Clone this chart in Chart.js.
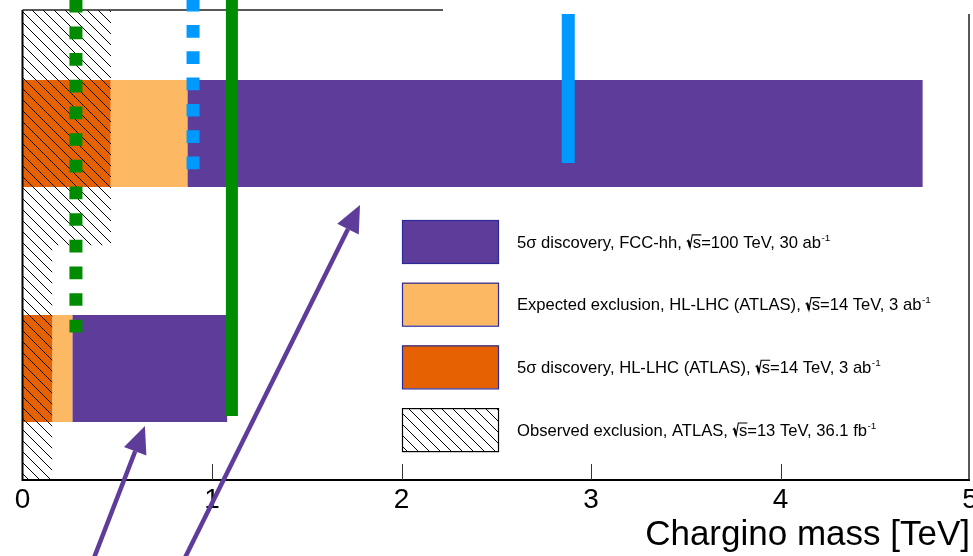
<!DOCTYPE html>
<html>
<head>
<meta charset="utf-8">
<script src="https://cdn.jsdelivr.net/npm/chart.js@4.4.1/dist/chart.umd.min.js"></script>
<style>
  html, body { margin: 0; padding: 0; background: #fff; }
  #wrap { width: 973px; height: 556px; }
</style>
</head>
<body>
<div id="wrap"><canvas id="myChart" width="973" height="556"></canvas></div>
<script>
// rows, top to bottom
var rows = ['Wino', 'Higgsino'];
var xTicks = [0, 1, 2, 3, 4, 5];

// mass reach [TeV] per row, as [from, to]
var fccDiscovery   = [[0.87, 4.75], [0.263, 1.08]];
var hllhcExclusion = [[0.465, 0.87], [0.157, 0.263]];
var hllhcDiscovery = [[0, 0.465], [0, 0.157]];
var atlasObserved  = [[0, 0.465], [0, 0.155]];

var legendLabels = [
  '5σ discovery, FCC-hh, √s=100 TeV, 30 ab^-1',
  'Expected exclusion, HL-LHC (ATLAS), √s=14 TeV, 3 ab^-1',
  '5σ discovery, HL-LHC (ATLAS), √s=14 TeV, 3 ab^-1',
  'Observed exclusion, ATLAS, √s=13 TeV, 36.1 fb^-1'
];

// vertical reference lines: mass [TeV] and extent in row units (0 = Wino row, 1 = Higgsino row)
var thermalHiggsino = 1.105, thermalHiggsinoSpan = [-0.577, 1.202];
var thermalWino     = 2.88,  thermalWinoSpan     = [-0.509, 0.126];
var dotHiggsino     = 0.282, dotHiggsinoSpan     = [-0.569, 0.849];
var dotWino         = 0.9,   dotWinoSpan         = [-0.5735, 0.160];

// arrows: [mass, row] tail and head
var arrowTail = [[0.361, 1.840], [0.836, 1.840]];
var arrowHead = [[0.646, 1.245], [1.781, 0.304]];

var fontFamily = '"Liberation Sans", Arial, Helvetica, sans-serif';
var purple = '#5e3c99', lightOrange = '#fdb863', orange = '#e66101';
var green = '#008c00', blue = '#0099ff';

var canvas = document.getElementById('myChart');
var ctx = canvas.getContext('2d');

function makeHatch() {
  var n = 11;
  var c = document.createElement('canvas');
  c.width = n; c.height = n;
  var g = c.getContext('2d');
  g.strokeStyle = '#000';
  g.lineWidth = 1;
  g.beginPath();
  g.moveTo(-1, -1); g.lineTo(n + 1, n + 1);
  g.moveTo(-1, n - 1); g.lineTo(1, n + 1);
  g.moveTo(n - 1, -1); g.lineTo(n + 1, 1);
  g.stroke();
  return ctx.createPattern(c, 'repeat');
}
var hatch = makeHatch();

function barData(arr) {
  return arr.map(function (v, i) { return { x: v, y: i }; });
}
function vline(mass, span) {
  return [{ x: mass, y: span[0] }, { x: mass, y: span[1] }];
}

// text with √s (overlined s) and a ^superscript tail
function drawLabel(g, text, x, y, size) {
  var sup = '';
  var k = text.indexOf('^');
  if (k >= 0) { sup = text.slice(k + 1); text = text.slice(0, k); }
  g.font = size + 'px ' + fontFamily;
  g.textAlign = 'left';
  g.textBaseline = 'alphabetic';
  g.fillStyle = '#000';
  var r = text.indexOf('√');
  var pre = r >= 0 ? text.slice(0, r) : text;
  g.fillText(pre, x, y);
  x += g.measureText(pre).width;
  if (r >= 0) {
    var s = text.charAt(r + 1);
    var rest = text.slice(r + 2);
    var sw = g.measureText(s).width;
    var top = y - 0.76 * size;
    g.strokeStyle = '#000';
    g.lineWidth = 1.1;
    g.beginPath();
    g.moveTo(x + 0.3, y - 0.36 * size);
    g.lineTo(x + 1.8, y - 0.44 * size);
    g.lineTo(x + 3.6, y);
    g.lineTo(x + 5.8, top);
    g.lineTo(x + 6.6 + sw, top);
    g.stroke();
    g.lineWidth = 2.2;
    g.beginPath();
    g.moveTo(x + 2, y - 0.4 * size);
    g.lineTo(x + 3.6, y - 0.5);
    g.stroke();
    x += 6.4;
    g.fillText(s, x, y);
    x += sw;
    g.fillText(rest, x, y);
    x += g.measureText(rest).width;
  }
  if (sup) {
    g.font = (size * 0.6) + 'px ' + fontFamily;
    g.fillText(sup, x + 0.5, y - 0.42 * size);
  }
}

function drawArrow(g, x0, y0, x1, y1) {
  var a = Math.atan2(y1 - y0, x1 - x0);
  var hl = 27, hw = 12;
  var bx = x1 - hl * Math.cos(a), by = y1 - hl * Math.sin(a);
  g.strokeStyle = purple;
  g.fillStyle = purple;
  g.lineWidth = 4.5;
  g.beginPath();
  g.moveTo(x0, y0);
  g.lineTo(bx, by);
  g.stroke();
  g.beginPath();
  g.moveTo(x1, y1);
  g.lineTo(bx + hw * Math.sin(a), by - hw * Math.cos(a));
  g.lineTo(bx - hw * Math.sin(a), by + hw * Math.cos(a));
  g.closePath();
  g.fill();
}

var framePlugin = {
  id: 'rootFrame',
  beforeDatasetsDraw: function (chart) { chart.$frameDone = false; },
  beforeDatasetDraw: function (chart, args) {
    if (args.meta.type !== 'line' || chart.$frameDone) return;
    chart.$frameDone = true;
    var a = chart.chartArea, g = chart.ctx, xs = chart.scales.x;
    g.save();
    g.strokeStyle = '#000';
    g.lineWidth = 2;
    g.beginPath();
    g.moveTo(a.left, a.top); g.lineTo(a.left, a.bottom); g.lineTo(a.right, a.bottom);
    g.stroke();
    g.lineWidth = 1.5;
    g.strokeStyle = '#222';
    g.beginPath();
    g.moveTo(a.left, a.top); g.lineTo(a.left + (a.right - a.left) * 0.4438, a.top);
    g.moveTo(a.right - 1, a.top + 4); g.lineTo(a.right - 1, a.bottom);
    g.stroke();
    g.lineWidth = 1;
    g.strokeStyle = '#333';
    g.beginPath();
    xTicks.slice(1, -1).forEach(function (v) {
      var px = Math.round(xs.getPixelForValue(v)) + 0.5;
      g.moveTo(px, a.bottom); g.lineTo(px, a.bottom - 16);
    });
    g.stroke();
    g.restore();
  },
  afterDatasetsDraw: function (chart) {
    var g = chart.ctx, xs = chart.scales.x, ys = chart.scales.yb;
    g.save();
    arrowTail.forEach(function (t, i) {
      var h = arrowHead[i];
      drawArrow(g, xs.getPixelForValue(t[0]), ys.getPixelForValue(t[1]),
                   xs.getPixelForValue(h[0]), ys.getPixelForValue(h[1]));
    });
    g.restore();
  },
  afterDraw: function (chart) {
    var g = chart.ctx;
    g.save();
    var order = [7, 6, 5, 4];
    order.forEach(function (di, k) {
      var ds = chart.data.datasets[di];
      var top = 220 + k * 62.7;
      g.fillStyle = ds.backgroundColor;
      g.fillRect(402, top, 96, 43);
      g.strokeStyle = ds.legendBorder;
      g.lineWidth = 1.2;
      g.strokeRect(402.5, top + 0.5, 96, 43);
      drawLabel(g, ds.label, 517, top + 27.5, 16.6);
    });
    g.restore();
  }
};

var lineStyle = { type: 'line', xAxisID: 'x', yAxisID: 'yb', pointRadius: 0, fill: false,
                  clip: false, borderCapStyle: 'butt', tension: 0 };

var myChart = new Chart(ctx, {
  type: 'bar',
  data: {
    labels: rows,
    datasets: [
      Object.assign({ data: vline(thermalHiggsino, thermalHiggsinoSpan), borderColor: green, borderWidth: 12 }, lineStyle),
      Object.assign({ data: vline(thermalWino, thermalWinoSpan), borderColor: blue, borderWidth: 13 }, lineStyle),
      Object.assign({ data: vline(dotHiggsino, dotHiggsinoSpan), borderColor: green, borderWidth: 13, borderDash: [12.7, 13.97] }, lineStyle),
      Object.assign({ data: vline(dotWino, dotWinoSpan), borderColor: blue, borderWidth: 13, borderDash: [12.7, 13.6] }, lineStyle),
      { label: legendLabels[3], data: atlasObserved, yAxisID: 'y', backgroundColor: hatch, legendBorder: '#000',
        grouped: false, barPercentage: 1, categoryPercentage: 1, borderWidth: 0 },
      { label: legendLabels[2], data: barData(hllhcDiscovery), yAxisID: 'yb', backgroundColor: orange, legendBorder: '#2a2a9a',
        grouped: false, barPercentage: 0.455, categoryPercentage: 1, borderWidth: 0 },
      { label: legendLabels[1], data: barData(hllhcExclusion), yAxisID: 'yb', backgroundColor: lightOrange, legendBorder: '#2a2a9a',
        grouped: false, barPercentage: 0.455, categoryPercentage: 1, borderWidth: 0 },
      { label: legendLabels[0], data: barData(fccDiscovery), yAxisID: 'yb', backgroundColor: purple, legendBorder: '#2a2a9a',
        grouped: false, barPercentage: 0.455, categoryPercentage: 1, borderWidth: 0 }
    ]
  },
  options: {
    indexAxis: 'y',
    responsive: false,
    devicePixelRatio: 1,
    animation: false,
    layout: { padding: { left: 22.5, right: 3, top: 10, bottom: 0 } },
    plugins: { legend: { display: false }, tooltip: { enabled: false } },
    scales: {
      x: {
        type: 'linear', position: 'bottom', min: 0, max: 5,
        afterBuildTicks: function (s) { s.ticks = xTicks.map(function (v) { return { value: v }; }); },
        afterFit: function (s) { s.paddingLeft = 0; s.paddingRight = 0; s.height = 76; },
        grid: { display: false, drawTicks: false },
        border: { display: false },
        ticks: { color: '#000', padding: 6, maxRotation: 0, autoSkip: false,
                 font: { family: fontFamily, size: 28, lineHeight: 1 } },
        title: { display: true, text: 'Chargino mass [TeV]', align: 'end', color: '#000',
                 padding: { top: 0, bottom: 3 }, font: { family: fontFamily, size: 35, lineHeight: 1 } }
      },
      y: { type: 'category', display: false, offset: true, grid: { display: false } },
      yb: { type: 'linear', display: false, reverse: true, offset: false, min: -0.5255, max: 1.4745,
            ticks: { stepSize: 1 }, grid: { display: false } }
    }
  },
  plugins: [framePlugin]
});
</script>
</body>
</html>
